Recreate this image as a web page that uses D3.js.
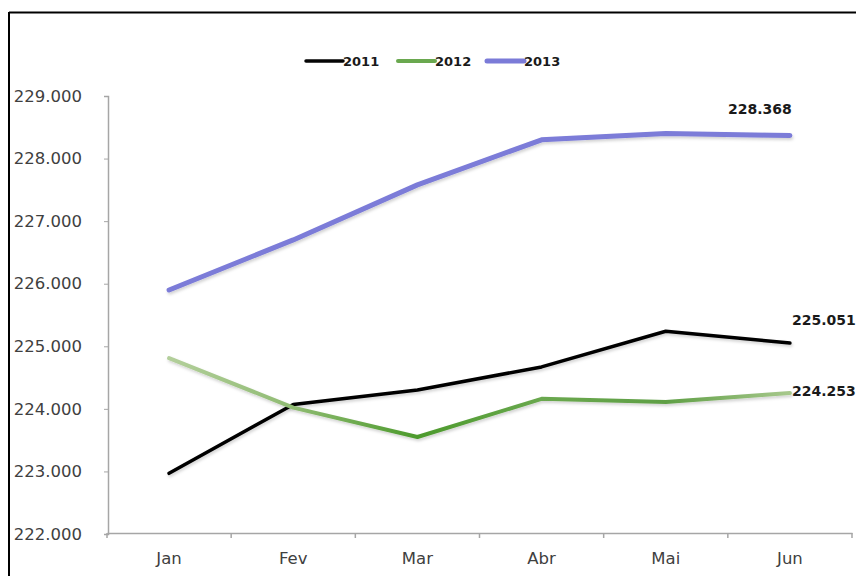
<!DOCTYPE html>
<html>
<head>
<meta charset="utf-8">
<script src="https://cdn.jsdelivr.net/npm/d3@7"></script>
<style>
  body { margin: 0; background: #fff; }
  svg { display: block; }
</style>
</head>
<body>
<div id="chart"></div>
<script>

var months = ["Jan", "Fev", "Mar", "Abr", "Mai", "Jun"];
var years = ["2011", "2012", "2013"];
var values2011 = [222970, 224070, 224300, 224670, 225240, 225051];
var values2012 = [224810, 224020, 223550, 224160, 224110, 224253];
var values2013 = [225900, 226700, 227580, 228300, 228400, 228368];
var yTicks = [222000, 223000, 224000, 225000, 226000, 227000, 228000, 229000];

var colors = {"2011": "#050505", "2012": "url(#greenGrad)", "2013": "#7b7bd8"};
var legendColors = {"2011": "#050505", "2012": "#6aa84f", "2013": "#7b7bd8"};
var widths = {"2011": 3.5, "2012": 4, "2013": 5};

var series = [
    {"year": "2011", "values": values2011},
    {"year": "2012", "values": values2012},
    {"year": "2013", "values": values2013}
];

var width = 856, height = 576;

var svg = d3.select("#chart").append("svg")
    .attr("width", width)
    .attr("height", height);

var x = d3.scaleBand().domain(months).range([107, 852]).padding(0);
var y = d3.scaleLinear().domain([222000, 229000]).range([534, 96]);

var defs = svg.append("defs");
var shadow = defs.append("filter").attr("id", "shadow")
    .attr("x", "-10%").attr("y", "-50%").attr("width", "120%").attr("height", "200%");
shadow.append("feDropShadow")
    .attr("dx", 1).attr("dy", 2).attr("stdDeviation", 1.5)
    .attr("flood-color", "#000").attr("flood-opacity", 0.18);

// green line goes light / dark along the months like the original
var greenStops = ["#b3cf9b", "#8fbb72", "#4c9a2c", "#6aa84f", "#5f9f45", "#a7c88c"];
var grad = defs.append("linearGradient").attr("id", "greenGrad")
    .attr("gradientUnits", "userSpaceOnUse")
    .attr("x1", x(months[0]) + x.bandwidth() / 2).attr("y1", 0)
    .attr("x2", x(months[5]) + x.bandwidth() / 2).attr("y2", 0);
grad.selectAll("stop").data(greenStops).enter().append("stop")
    .attr("offset", function(d, i) { return i / (greenStops.length - 1); })
    .attr("stop-color", function(d) { return d; });

// frame (left and top only, the rest is cut off)
svg.append("line").attr("x1", 9).attr("y1", 12).attr("x2", 9).attr("y2", height).attr("stroke", "#000").attr("stroke-width", 2);
svg.append("line").attr("x1", 9).attr("y1", 12.5).attr("x2", width).attr("y2", 12.5).attr("stroke", "#000").attr("stroke-width", 2);

var pt = d3.formatLocale({decimal: ",", thousands: ".", grouping: [3], currency: ["R$", ""]});
var fmt = pt.format(",d");

// y axis
var yAxis = svg.append("g")
    .attr("transform", "translate(108,0)")
    .call(d3.axisLeft(y).tickValues(yTicks).tickSize(4).tickPadding(22).tickFormat(fmt));
yAxis.select(".domain").attr("stroke", "#a6a6a6").attr("stroke-width", 1.5);
yAxis.selectAll(".tick line").attr("stroke", "#a6a6a6");
yAxis.selectAll("text")
    .attr("font-family", "DejaVu Sans, sans-serif")
    .attr("font-size", 16.5)
    .attr("fill", "#404040");

// x axis
var xAxis = svg.append("g")
    .attr("transform", "translate(0,533)")
    .call(d3.axisBottom(x).tickSize(0).tickPadding(19));
xAxis.select(".domain").attr("stroke", "#a6a6a6").attr("stroke-width", 1.5);
xAxis.selectAll("text")
    .attr("font-family", "DejaVu Sans, sans-serif")
    .attr("font-size", 16.5)
    .attr("fill", "#404040");
var bounds = months.map(function(m) { return x(m); }).concat([x(months[months.length - 1]) + x.bandwidth()]);
xAxis.selectAll(".bound").data(bounds).enter().append("line")
    .attr("class", "bound")
    .attr("x1", function(d) { return d; })
    .attr("x2", function(d) { return d; })
    .attr("y1", 0).attr("y2", 5)
    .attr("stroke", "#a6a6a6").attr("stroke-width", 1.5);

var line = d3.line()
    .x(function(d, i) { return x(months[i]) + x.bandwidth() / 2; })
    .y(function(d) { return y(d); });

svg.append("g").selectAll("path")
    .data(series).enter().append("path")
    .attr("d", function(d) { return line(d.values); })
    .attr("fill", "none")
    .attr("stroke", function(d) { return colors[d.year]; })
    .attr("stroke-width", function(d) { return widths[d.year]; })
    .attr("stroke-linejoin", "round")
    .attr("stroke-linecap", "round")
    .attr("filter", "url(#shadow)");

// end labels
var last = months.length - 1;
var lx = x(months[last]) + x.bandwidth() / 2;
svg.append("g").selectAll("text")
    .data(series).enter().append("text")
    .attr("x", function(d) { return d.year == "2013" ? lx - 62 : lx + 2; })
    .attr("y", function(d) {
        if (d.year == "2013") return y(d.values[last]) - 22;
        if (d.year == "2012") return y(d.values[last]) + 3;
        return y(d.values[last]) - 18;
    })
    .attr("font-family", "DejaVu Sans, sans-serif")
    .attr("font-weight", "bold")
    .attr("font-size", 14)
    .attr("fill", "#1a1a1a")
    .text(function(d) { return fmt(d.values[last]); });

// legend
var legendX = [306, 398, 487];
var legend = svg.append("g").selectAll("g")
    .data(years).enter().append("g")
    .attr("transform", function(d, i) { return "translate(" + legendX[i] + ",61)"; });
legend.append("line")
    .attr("x1", 0).attr("x2", 37).attr("y1", 0).attr("y2", 0)
    .attr("stroke", function(d) { return legendColors[d]; })
    .attr("stroke-width", function(d) { return widths[d]; })
    .attr("stroke-linecap", "round");
legend.append("text")
    .attr("x", 37).attr("y", 5)
    .attr("font-family", "DejaVu Sans, sans-serif")
    .attr("font-weight", "bold")
    .attr("font-size", 13)
    .attr("fill", "#1a1a1a")
    .text(function(d) { return d; });

</script>
</body>
</html>
